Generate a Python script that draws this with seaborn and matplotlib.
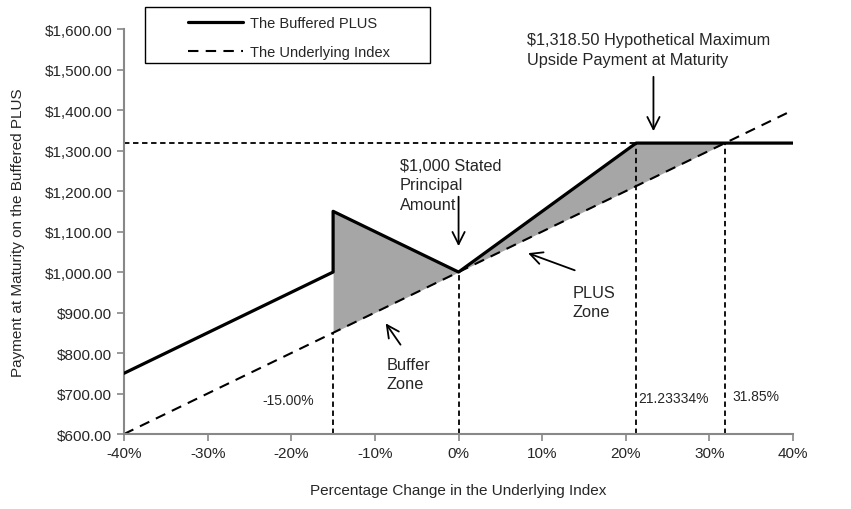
import numpy as np
import pandas as pd
import matplotlib
matplotlib.use('Agg')
import matplotlib.pyplot as plt
import matplotlib.ticker as mticker
from matplotlib.patches import Rectangle
import seaborn as sns

# payoff data (x in % change, y in $)
buffered_x = [-40, -15, -15, 0, 21.23334, 40]
buffered_y = [750, 1000, 1150, 1000, 1318.5, 1318.5]
underlying_x = [-40, 40]
underlying_y = [600, 1400]

buffer_zone_x = [-15, 0]
buffer_zone_top = [1150, 1000]
buffer_zone_low = [850, 1000]
plus_zone_x = [0, 21.23334, 31.85]
plus_zone_top = [1000, 1318.5, 1318.5]
plus_zone_low = [1000, 1212.3334, 1318.5]

cap_level = 1318.5
guide_x = [-15, 0, 21.23334, 31.85]
guide_top = [850, 1000, 1318.5, 1318.5]

level_labels = ['-15.00%', '21.23334%', '31.85%']
level_label_x = [-20.4, 25.7, 35.6]
level_label_y = [684, 690, 694]

sns.set_theme(style='ticks')
plt.rcParams['font.family'] = ['Liberation Sans', 'DejaVu Sans']

fig = plt.figure(figsize=(8.51, 5.10), dpi=100)
ax = fig.add_axes([0.1457, 0.147, 0.7863, 0.794])

df_buf = pd.DataFrame({'x': buffered_x, 'y': buffered_y})
df_und = pd.DataFrame({'x': underlying_x, 'y': underlying_y})

ax.fill_between(buffer_zone_x, buffer_zone_low, buffer_zone_top, color='#a6a6a6', lw=0, zorder=1)
ax.fill_between(plus_zone_x, plus_zone_low, plus_zone_top, color='#a6a6a6', lw=0, zorder=1)

sns.lineplot(data=df_und, x='x', y='y', ax=ax, color='black', lw=1.5, sort=False,
             estimator=None, label='The Underlying Index', zorder=2)
ax.lines[-1].set_dashes([5, 3.5])
sns.lineplot(data=df_buf, x='x', y='y', ax=ax, color='black', lw=2.3, sort=False,
             estimator=None, label='The Buffered PLUS', zorder=3)

# dashed guide lines
ax.plot([-40, 21.23334], [cap_level, cap_level], color='black', lw=1.3, ls=(0, (3, 2)), zorder=2)
for gx, gt in zip(guide_x, guide_top):
    ax.plot([gx, gx], [600, gt], color='black', lw=1.3, ls=(0, (3, 2)), zorder=2)

for lab, lx, ly in zip(level_labels, level_label_x, level_label_y):
    ax.text(lx, ly, lab, fontsize=10, ha='center', va='center')

arrow = dict(arrowstyle='->', color='black', lw=1.3, mutation_scale=22)
note_fs = 11.8
ls_ = 1.36
ax.annotate('', xy=(0, 1057), xytext=(0, 1193), arrowprops=arrow)
ax.text(-7.0, 1282, '$1,000 Stated\nPrincipal\nAmount', fontsize=note_fs, ha='left', va='top',
        linespacing=ls_)
ax.annotate('', xy=(23.3, 1341), xytext=(23.3, 1489), arrowprops=arrow)
ax.text(8.2, 1592, '$1,318.50 Hypothetical Maximum\nUpside Payment at Maturity', fontsize=note_fs,
        ha='left', va='top', linespacing=ls_)
ax.annotate('', xy=(8.0, 1049), xytext=(14.2, 1002), arrowprops=arrow)
ax.text(13.6, 968, 'PLUS\nZone', fontsize=note_fs, ha='left', va='top', linespacing=ls_)
ax.annotate('', xy=(-8.9, 879), xytext=(-6.75, 815), arrowprops=arrow)
ax.text(-8.6, 790, 'Buffer\nZone', fontsize=note_fs, ha='left', va='top', linespacing=ls_)

ax.set_xlim(-40, 40)
ax.set_ylim(600, 1600)
ax.set_xticks(np.arange(-40, 41, 10))
ax.set_yticks(np.arange(600, 1601, 100))
ax.xaxis.set_major_formatter(mticker.FuncFormatter(lambda v, p: f'{v:.0f}%'))
ax.yaxis.set_major_formatter(mticker.FuncFormatter(lambda v, p: f'${v:,.2f}'))
ax.tick_params(labelsize=11, color='#888888', length=5, width=1.2)
ax.set_xlabel('Percentage Change in the Underlying Index', fontsize=11, labelpad=17)
ax.set_ylabel('Payment at Maturity on the Buffered PLUS', fontsize=11, labelpad=14)
sns.despine(ax=ax)
for s in ['left', 'bottom']:
    ax.spines[s].set_color('#888888')
    ax.spines[s].set_linewidth(1.5)

# legend
h, l = ax.get_legend_handles_labels()
ax.get_legend().remove()
fig.legend(h[::-1], l[::-1], loc='upper left', bbox_to_anchor=(0.205, 0.992), frameon=False,
           fontsize=10.5, handlelength=3.8, handletextpad=0.5, labelspacing=1.0)
fig.patches.append(Rectangle((0.170, 0.875), 0.335, 0.109, transform=fig.transFigure,
                             fill=False, edgecolor='black', lw=1.0))

fig.savefig('out.png', dpi=100)
